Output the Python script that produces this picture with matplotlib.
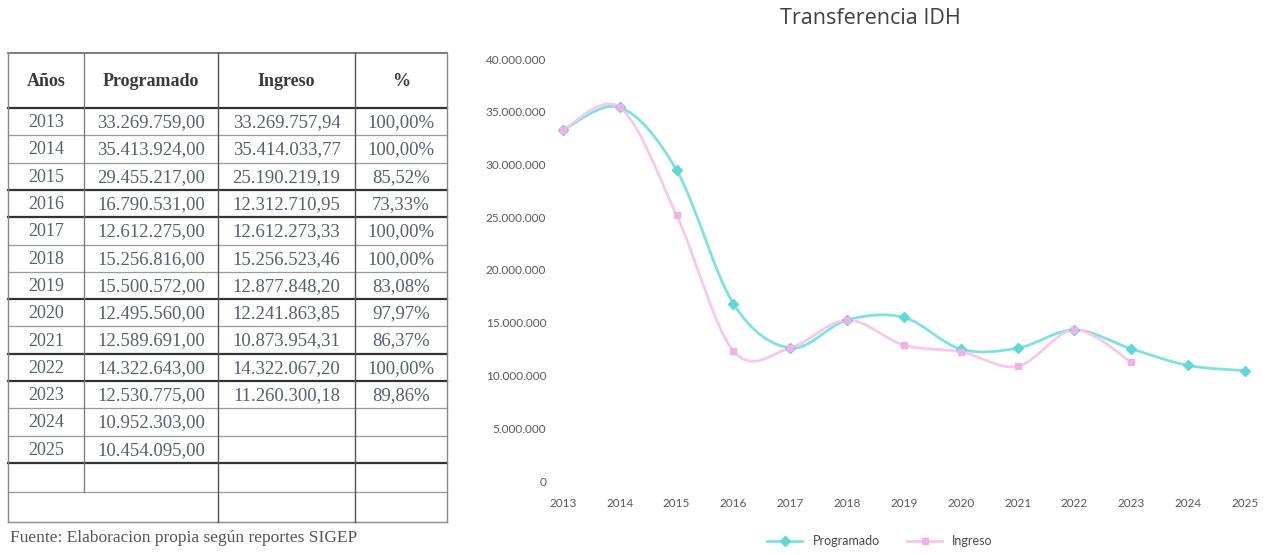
import matplotlib
matplotlib.use("Agg")
import matplotlib.pyplot as plt
from matplotlib.path import Path
from matplotlib.patches import PathPatch
from matplotlib.lines import Line2D
from matplotlib.ticker import FuncFormatter

# Datos de la tabla / gráfico
anios = [2013, 2014, 2015, 2016, 2017, 2018, 2019, 2020, 2021, 2022, 2023, 2024, 2025]
programado = [33269759.00, 35413924.00, 29455217.00, 16790531.00, 12612275.00,
              15256816.00, 15500572.00, 12495560.00, 12589691.00, 14322643.00,
              12530775.00, 10952303.00, 10454095.00]
ingreso = [33269757.94, 35414033.77, 25190219.19, 12312710.95, 12612273.33,
           15256523.46, 12877848.20, 12241863.85, 10873954.31, 14322067.20,
           11260300.18]
porcentaje = ["100,00%", "100,00%", "85,52%", "73,33%", "100,00%", "100,00%",
              "83,08%", "97,97%", "86,37%", "100,00%", "89,86%"]
encabezados = ["Años", "Programado", "Ingreso", "%"]
y_ticks = [0, 5000000, 10000000, 15000000, 20000000, 25000000, 30000000, 35000000, 40000000]

W, H = 1274, 555
CYAN = "#7fe2de"
CYAN_M = "#5fd8d6"
PINK = "#f6c8ee"
PINK_M = "#f0b2e6"


def fmt_es(v):
    s = f"{v:,.2f}"
    return s.replace(",", "X").replace(".", ",").replace("X", ".")


def smooth_path(xs, ys):
    # curva tipo Catmull-Rom (como la línea suavizada de Excel)
    pts = list(zip(xs, ys))
    verts = [pts[0]]
    codes = [Path.MOVETO]
    for i in range(len(pts) - 1):
        p0 = pts[i - 1] if i > 0 else pts[i]
        p1 = pts[i]
        p2 = pts[i + 1]
        p3 = pts[i + 2] if i + 2 < len(pts) else pts[i + 1]
        c1 = (p1[0] + (p2[0] - p0[0]) / 6, p1[1] + (p2[1] - p0[1]) / 6)
        c2 = (p2[0] - (p3[0] - p1[0]) / 6, p2[1] - (p3[1] - p1[1]) / 6)
        verts += [c1, c2, p2]
        codes += [Path.CURVE4] * 3
    return Path(verts, codes)


fig = plt.figure(figsize=(W / 100, H / 100), dpi=100)

# ---------------- Tabla (izquierda) ----------------
tab = fig.add_axes([0, 0, 1, 1])
tab.set_xlim(0, W)
tab.set_ylim(H, 0)
tab.axis("off")

col_x = [8, 84, 218, 355, 447]
top, head_bot, pitch = 53, 108, 27.3
n_rows = len(anios)
row_y = [head_bot + i * pitch for i in range(n_rows + 1)]
empty1, bottom = 492, 522
serif = "Liberation Serif"
txt_col = "#56606e"

# líneas horizontales (algunas más marcadas como en el escaneo)
heavy = {0, 3, 4, 7, 9, 10, 13}
tab.plot([col_x[0], col_x[-1]], [top, top], color="#666666", lw=1.2)
for i, yy in enumerate(row_y):
    tab.plot([col_x[0], col_x[-1]], [yy, yy], color="#333333" if i in heavy else "#9a9a9a",
             lw=1.6 if i in heavy else 0.9)
tab.plot([col_x[0], col_x[-1]], [empty1, empty1], color="#9a9a9a", lw=0.9)
tab.plot([col_x[0], col_x[-1]], [bottom, bottom], color="#888888", lw=1.0)
# líneas verticales
tab.plot([col_x[0], col_x[0]], [top, bottom], color="#888888", lw=1.0)
tab.plot([col_x[-1], col_x[-1]], [top, bottom], color="#888888", lw=1.0)
tab.plot([col_x[1], col_x[1]], [top, empty1], color="#777777", lw=0.9)
tab.plot([col_x[2], col_x[2]], [top, bottom], color="#555555", lw=1.0)
tab.plot([col_x[3], col_x[3]], [top, bottom], color="#555555", lw=1.0)

for j, h in enumerate(encabezados):
    tab.text((col_x[j] + col_x[j + 1]) / 2, (top + head_bot) / 2 + 1, h, ha="center", va="center",
             family=serif, fontsize=13, fontweight="bold", color="#3a3a3a")

for i, a in enumerate(anios):
    yc = (row_y[i] + row_y[i + 1]) / 2 + 1
    cells = [str(a), fmt_es(programado[i])]
    if i < len(ingreso):
        cells += [fmt_es(ingreso[i]), porcentaje[i]]
    for j, c in enumerate(cells):
        tab.text((col_x[j] + col_x[j + 1]) / 2, yc, c, ha="center", va="center",
                 family=serif, fontsize=13.5 if j > 0 else 13, color=txt_col)

tab.text(10, 538, "Fuente: Elaboracion propia según reportes SIGEP", ha="left", va="center",
         family=serif, fontsize=12.5, color="#555555")

# ---------------- Gráfico (derecha) ----------------
ax = fig.add_axes([563 / W, (H - 481) / H, (1245 - 563) / W, (481 - 59) / H])
ax.set_xlim(anios[0], anios[-1])
ax.set_ylim(0, 40000000)

ax.add_patch(PathPatch(smooth_path(anios, programado), fill=False, edgecolor=CYAN,
                       lw=2.0, capstyle="round", zorder=3))
ax.add_patch(PathPatch(smooth_path(anios[:len(ingreso)], ingreso), fill=False, edgecolor=PINK,
                       lw=2.0, capstyle="round", zorder=4))
ax.plot(anios, programado, linestyle="none", marker="D", markersize=5, color=CYAN_M,
        clip_on=False, zorder=5)
ax.plot(anios[:len(ingreso)], ingreso, linestyle="none", marker="s", markersize=5, color=PINK_M,
        clip_on=False, zorder=6)

for s in ax.spines.values():
    s.set_visible(False)
ax.set_xticks(anios)
ax.set_yticks(y_ticks)
ax.yaxis.set_major_formatter(FuncFormatter(lambda v, p: f"{int(v):,}".replace(",", ".")))
ax.tick_params(length=0, labelsize=8.5, labelcolor="#5a5a5a")
ax.tick_params(axis="y", pad=12)
ax.tick_params(axis="x", pad=12)
for lab in ax.get_xticklabels() + ax.get_yticklabels():
    lab.set_family("Lato")

fig.text(870 / W, 1 - 18 / H, "Transferencia IDH", ha="center", va="center",
         family="Open Sans", fontsize=15.5, color="#404040")

handles = [Line2D([], [], color=CYAN, lw=2.0, marker="D", markersize=5, markerfacecolor=CYAN_M,
                  markeredgecolor=CYAN_M),
           Line2D([], [], color=PINK, lw=2.0, marker="s", markersize=5, markerfacecolor=PINK_M,
                  markeredgecolor=PINK_M)]
fig.legend(handles, ["Programado", "Ingreso"], loc="center", bbox_to_anchor=(880 / W, 1 - 541 / H),
           ncol=2, frameon=False, handlelength=2.8, columnspacing=2.2,
           prop={"family": "Lato", "size": 9}, labelcolor="#4a4a4a")

fig.savefig("out.png", dpi=100)
